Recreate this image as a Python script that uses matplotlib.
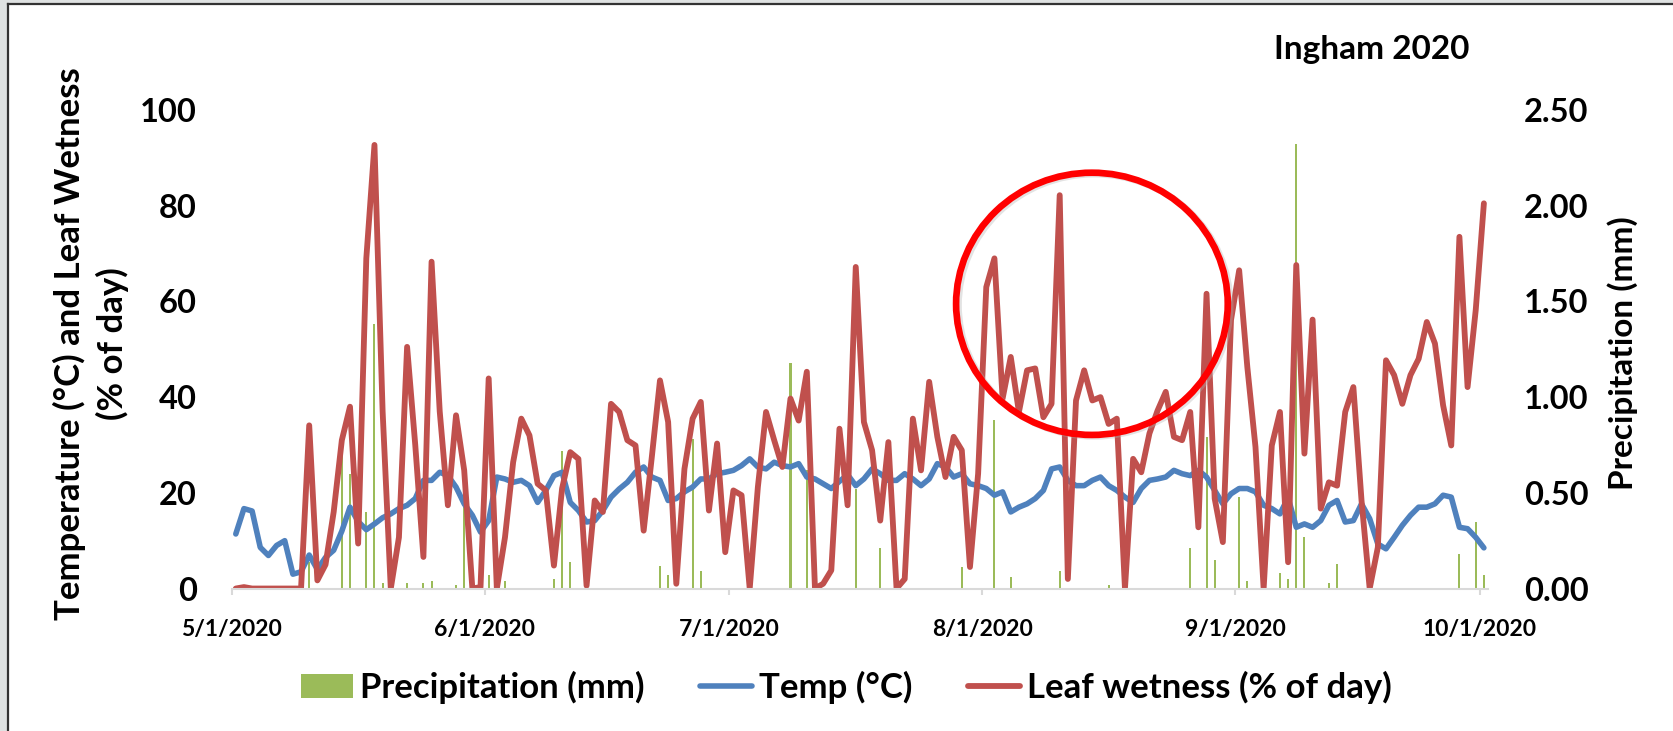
import numpy as np
import pandas as pd
import matplotlib
matplotlib.use("Agg")
import matplotlib.pyplot as plt
import matplotlib.dates as mdates
from matplotlib.patches import Ellipse, Rectangle
from matplotlib.lines import Line2D
from matplotlib.ticker import FormatStrFormatter

plt.rcParams['font.family'] = ['Lato', 'DejaVu Sans']
plt.rcParams['font.weight'] = 'bold'

# daily values, 5/1/2020 .. 10/1/2020
start_date = '2020-05-01'
n_days = 154

leaf_wetness = [
    0, 0.3, 0, 0, 0, 0, 0, 0, 0, 34.1,
    1.7, 5, 16, 31, 38, 9.4, 69, 92.7, 37, 0,
    10.7, 50.5, 30, 6.6, 68.3, 37, 17.4, 36.2, 24.7, 0,
    0.3, 43.9, 0, 10.7, 26.4, 35.5, 32, 21.9, 20.5, 4.8,
    20.9, 28.5, 27.1, 0.6, 18.4, 16, 38.6, 36.9, 31, 29.9,
    12.1, 27.5, 43.5, 34.8, 1, 25, 35.5, 39, 16.3, 30.3,
    7.6, 20.5, 19.5, 0, 21.2, 36.9, 31, 25.4, 39.7, 35.1,
    45.3, 0, 1, 3.8, 33.4, 17.4, 67.2, 34.8, 28.9, 14.2,
    30.6, 0, 2, 35.5, 24.7, 43.2, 31.7, 23.3, 31.7, 28.9,
    4.5, 24, 63, 69, 39.7, 48.4, 36.9, 45.6, 46, 35.8,
    38.6, 82.2, 2, 39.3, 45.6, 39.3, 40, 34.4, 35.5, 0,
    27.1, 24.3, 32.4, 37.2, 41.1, 31.7, 31, 36.9, 12.8, 61.6,
    18.8, 9.7, 56.1, 66.5, 46.3, 29.6, 0, 29.9, 36.9, 5.5,
    67.6, 28.2, 56.2, 16.7, 22.2, 21.5, 36.9, 42.1, 18.4, 0,
    8.6, 47.7, 44.6, 38.6, 44.6, 48, 55.7, 51.2, 38.3, 29.9,
    73.5, 42.1, 58.2, 80.5,
]

temp = [
    11.4, 16.7, 16.2, 8.6, 6.9, 9, 10, 3, 3.5, 7,
    4, 6.5, 8, 12, 17, 14, 12.3, 13.5, 14.8, 15.6,
    16.7, 17.4, 18.8, 22.6, 22.6, 24.3, 23.6, 21.2, 17.7, 15.3,
    11.8, 14.2, 23.3, 22.9, 22.2, 22.6, 21.5, 18, 20.5, 23.6,
    24.3, 18, 16.3, 13.9, 14.2, 16.3, 19.1, 20.8, 22.2, 24.3,
    25.4, 23.3, 22.6, 18.4, 18.8, 20.2, 21.2, 22.9, 22.9, 24,
    24.3, 24.7, 25.7, 27.1, 25.4, 25, 26.4, 25.7, 25.4, 26.1,
    23.3, 22.9, 21.9, 20.9, 22.4, 23.8, 21.5, 22.9, 25, 24,
    22.6, 22.6, 24, 22.9, 21.5, 22.9, 26.1, 25.4, 23.3, 24,
    21.9, 21.5, 20.9, 19.5, 20.2, 16, 17, 17.7, 18.8, 20.5,
    25, 25.4, 22.6, 21.5, 21.5, 22.6, 23.3, 21.5, 20.5, 19.1,
    18, 20.9, 22.6, 22.9, 23.3, 24.7, 24, 23.6, 24.7, 23.3,
    20.5, 17.7, 19.8, 20.9, 20.9, 20.2, 17.4, 16.7, 15.6, 19,
    12.8, 13.5, 12.8, 14.2, 17.4, 18.4, 13.9, 14.2, 17.7, 14.6,
    9.3, 8.3, 10.7, 13.2, 15.3, 17, 17, 17.7, 19.5, 19.1,
    12.8, 12.5, 10.7, 8.5,
]

# precipitation (mm), only the rainy days, keyed by day index
rain_days = [9, 13, 14, 16, 17, 18, 21, 23, 24, 27, 28, 31, 33, 39, 40, 41,
             52, 53, 56, 57, 68, 70, 76, 79, 89, 93, 95, 101, 107, 117, 119,
             120, 123, 124, 128, 129, 130, 131, 134, 135, 150, 152, 153]
rain_mm = [0.14, 0.82, 0.6, 0.4, 1.38, 0.03, 0.03, 0.03, 0.04, 0.02, 0.63,
           0.07, 0.04, 0.05, 0.72, 0.14, 0.12, 0.07, 0.78, 0.09, 1.18, 0.62,
           0.52, 0.21, 0.11, 0.88, 0.06, 0.09, 0.02, 0.21, 0.79, 0.15, 0.48,
           0.04, 0.08, 0.05, 2.32, 0.27, 0.03, 0.13, 0.18, 0.35, 0.07]

precip = np.zeros(n_days)
precip[rain_days] = rain_mm

days = pd.date_range(start_date, periods=n_days, freq='D')
x = days + pd.Timedelta(hours=12)

red = '#c0504d'
blue = '#4f81bd'
green = '#9bbb59'
axis_grey = '#d9d9d9'

fig = plt.figure(figsize=(16.73, 7.31), dpi=100)
ax = fig.add_axes([0.1385, 0.1949, 0.7509, 0.6546])
ax2 = ax.twinx()
ax.set_zorder(ax2.get_zorder() + 1)
ax.patch.set_visible(False)

bars = ax2.bar(x, precip, width=0.25, color=green, label='Precipitation (mm)')
l_temp, = ax.plot(x, temp, color=blue, lw=4.0, solid_joinstyle='round',
                  solid_capstyle='round', label='Temp (°C)')
l_leaf, = ax.plot(x, leaf_wetness, color=red, lw=4.2, solid_joinstyle='round',
                  solid_capstyle='round', label='Leaf wetness (% of day)')

ax.set_ylim(0, 100)
ax2.set_ylim(0, 2.5)
ax.set_xlim(days[0], days[-1] + pd.Timedelta(days=1))
ax.set_yticks(np.arange(0, 101, 20))
ax2.set_yticks(np.arange(0, 2.51, 0.5))
ax2.yaxis.set_major_formatter(FormatStrFormatter('%.2f'))

month_ticks = pd.date_range(start_date, periods=6, freq='MS')
ax.set_xticks(month_ticks)
ax.set_xticklabels([f"{d.month}/{d.day}/{d.year}" for d in month_ticks])

for a in (ax, ax2):
    for s in a.spines.values():
        s.set_visible(False)
ax.spines['bottom'].set_visible(True)
ax.spines['bottom'].set_color(axis_grey)
ax.spines['bottom'].set_linewidth(1.5)

ax.tick_params(axis='x', length=4, width=1.5, color=axis_grey, pad=18,
               labelsize=16.5)
ax.tick_params(axis='y', length=0, pad=25, labelsize=23.5)
ax2.tick_params(axis='y', length=0, pad=26, labelsize=23.5)
for lab in ax.get_xticklabels() + ax.get_yticklabels() + ax2.get_yticklabels():
    lab.set_fontweight('bold')

# axis titles (left one is two separate lines)
fig.text(69.5 / 1673, 1 - 344 / 731, 'Temperature (°C) and Leaf Wetness',
         rotation=90, ha='center', va='center', fontsize=25, fontweight='bold')
fig.text(112.5 / 1673, 1 - 344 / 731, '(% of day)',
         rotation=90, ha='center', va='center', fontsize=25, fontweight='bold')
fig.text(1623 / 1673, 1 - 353 / 731, 'Precipitation (mm)', rotation=90,
         ha='center', va='center', fontsize=24, fontweight='bold')
fig.text(1372 / 1673, 1 - 59 / 731, 'Ingham 2020', ha='center', va='baseline',
         fontsize=24, fontweight='bold')

fig.legend(handles=[bars, l_temp, l_leaf], loc='center',
           bbox_to_anchor=(0.506, 0.059), ncol=3, frameon=False,
           prop={'size': 25, 'weight': 'bold'}, handlelength=1.5,
           handleheight=0.7, handletextpad=0.2, columnspacing=1.6)

# red highlight circle around August
circle_center = mdates.date2num(pd.Timestamp(start_date)) + 105.45
ax.add_patch(Ellipse((circle_center + 0.3, 59.2), 33.3, 54.8, fill=False,
                     edgecolor='#b0b0b0', lw=4.8, alpha=0.35, clip_on=False,
                     zorder=9))
ax.add_patch(Ellipse((circle_center, 59.5), 33.3, 54.8, fill=False,
                     edgecolor='#ff0000', lw=4.8, clip_on=False, zorder=10))

# slide frame
fig.add_artist(Rectangle((0, 0), 6 / 1673, 1, transform=fig.transFigure,
                         color='#dfe2e2', zorder=0))
fig.add_artist(Rectangle((0, 1 - 3 / 731), 1, 3 / 731, transform=fig.transFigure,
                         color='#dfe2e2', zorder=0))
fig.add_artist(Line2D([7.5 / 1673, 7.5 / 1673], [0, 1 - 4 / 731],
                      transform=fig.transFigure, color='#333333', lw=1.6))
fig.add_artist(Line2D([7.5 / 1673, 1], [1 - 4 / 731, 1 - 4 / 731],
                      transform=fig.transFigure, color='#333333', lw=1.6))

fig.savefig('out.png', dpi=100)
